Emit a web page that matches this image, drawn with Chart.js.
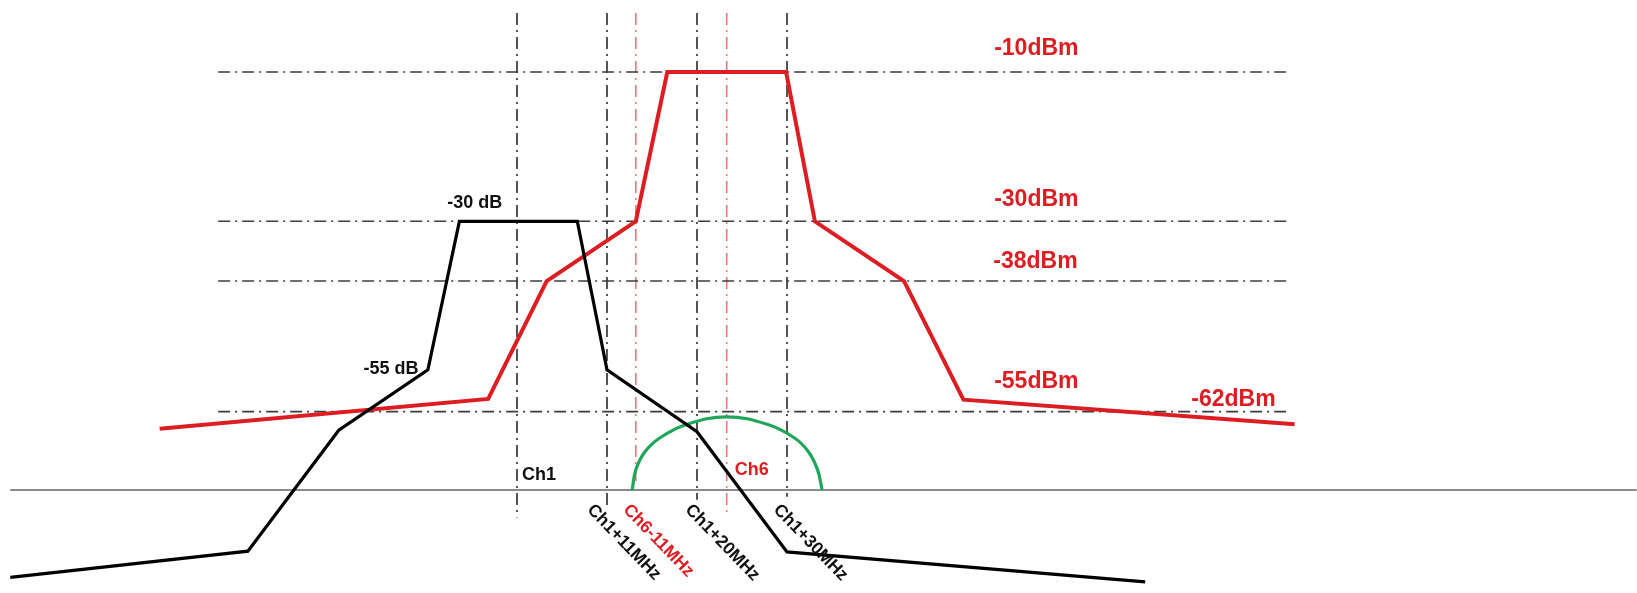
<!DOCTYPE html>
<html>
<head>
<meta charset="utf-8">
<title>Ch1 / Ch6 spectral mask</title>
<script src="https://cdn.jsdelivr.net/npm/chart.js@4.4.1/dist/chart.umd.min.js"></script>
<style>
    html, body { margin: 0; padding: 0; background: #fff; }
    canvas { display: block; }
</style>
</head>
<body>
<canvas id="maskChart" width="1637" height="593"></canvas>
<script>
// x = MHz offset from Ch1 centre, y = level in dB as drawn on the sketch
const blackFreq = [-56.3, -29.9, -19.8, -9.9, -6.4, 6.7, 10, 20, 30, 69.8];
const blackLevel = [-77.7, -74.2, -58.0, -49.9, -30, -30, -49.9, -58.2, -74.3, -78.3];

const redFreq = [-39.7, -3.2, 3.3, 13.2, 16.7, 29.9, 33.1, 43, 49.6, 86.4];
const redLevel = [-57.8, -53.8, -38, -30, -10, -10, -30, -38, -53.9, -57.2];

// Ch6 occupied band (green dome)
const greenFreq = [12.8, 13.2, 14.2, 15.9, 18.9, 23.3, 27.8, 30.8, 32.4, 33.4, 33.9];
const greenLevel = [-66, -63.3, -60.9, -59.0, -57.2, -56.2, -57.2, -59.0, -60.9, -63.3, -66];

// reference levels (horizontal dash-dot lines)
const refLevels = [-10, -30, -38, -55.5];
const refFrom = -33.2;
const refTo = 85.9;

// channel markers (vertical dash-dot lines)
const markerFreq = [0, 10, 20, 30];
const markerBottom = [-69.7, -68.0, -67.3, -66.9];
const redMarkerFreq = [13.2, 23.3];
const redMarkerBottom = [-65, -69.3];
const markerTop = -2.1;

const baseLevel = -66;
const baseFrom = -56.3;
const baseTo = 124.4;

// text on the sketch
const labelText = ['-10dBm', '-30dBm', '-38dBm', '-55dBm', '-62dBm', '-30 dB', '-55 dB', 'Ch1', 'Ch6',
    'Ch1+11MHz', 'Ch6-11MHz', 'Ch1+20MHz', 'Ch1+30MHz'];
const labelFreq = [57.7, 57.7, 57.6, 57.7, 79.6, -4.7, -14, 0.55, 24.2, 8.1, 12.1, 19.0, 28.8];
const labelLevel = [-6.9, -27.15, -35.45, -51.5, -53.9, -27.55, -49.8, -64.0, -63.3, -68.3, -68.3, -68.3, -68.3];

const RED = '#dc1e23';
const DASH_DOT = [12, 5, 2, 5];

const pts = (xs, ys) => xs.map((x, i) => ({ x: x, y: ys[i] }));

const lineSet = (data, color, width, dash) => ({
    data: data,
    showLine: true,
    borderColor: color,
    borderWidth: width,
    borderDash: dash || [],
    pointRadius: 0,
    fill: false,
    tension: 0
});

const datasets = [];
// curves first so they sit on top
datasets.push(lineSet(pts(blackFreq, blackLevel), '#000', 3.2));
datasets.push(lineSet(pts(redFreq, redLevel), RED, 4));
const green = lineSet(pts(greenFreq, greenLevel), '#1fa65a', 3.2);
green.tension = 0.4;
datasets.push(green);

refLevels.forEach(lv => {
    datasets.push(lineSet([{ x: refFrom, y: lv }, { x: refTo, y: lv }], '#3c3c3c', 1.6, DASH_DOT));
});
markerFreq.forEach((f, i) => {
    datasets.push(lineSet([{ x: f, y: markerTop }, { x: f, y: markerBottom[i] }], '#2a2a2a', 1.6, DASH_DOT));
});
redMarkerFreq.forEach((f, i) => {
    datasets.push(lineSet([{ x: f, y: markerTop }, { x: f, y: redMarkerBottom[i] }], '#e07a7e', 1.6, DASH_DOT));
});
datasets.push(lineSet([{ x: baseFrom, y: baseLevel }, { x: baseTo, y: baseLevel }], '#8a8a8a', 2));

// label styles per entry
const labelStyle = i => {
    if (i < 5) return { color: RED, size: 23, angle: 0, align: 'center' };
    if (i < 7) return { color: '#111', size: 18, angle: 0, align: 'center' };
    if (i === 7) return { color: '#111', size: 18, angle: 0, align: 'left' };
    if (i === 8) return { color: RED, size: 18, angle: 0, align: 'left' };
    return { color: i === 10 ? RED : '#111', size: 17.5, angle: 46, align: 'left' };
};

const textPlugin = {
    id: 'sketchText',
    afterDatasetsDraw(chart) {
        const ctx = chart.ctx;
        const xs = chart.scales.x, ys = chart.scales.y;
        labelText.forEach((t, i) => {
            const st = labelStyle(i);
            ctx.save();
            ctx.translate(xs.getPixelForValue(labelFreq[i]), ys.getPixelForValue(labelLevel[i]));
            ctx.rotate(st.angle * Math.PI / 180);
            ctx.font = 'bold ' + st.size + 'px "Liberation Sans", Arial, sans-serif';
            ctx.fillStyle = st.color;
            ctx.textAlign = st.align;
            ctx.textBaseline = 'middle';
            ctx.fillText(t, 0, 0);
            ctx.restore();
        });
    }
};

new Chart(document.getElementById('maskChart').getContext('2d'), {
    type: 'scatter',
    data: { datasets: datasets },
    options: {
        responsive: false,
        animation: false,
        devicePixelRatio: 1,
        layout: { padding: 0 },
        plugins: { legend: { display: false }, tooltip: { enabled: false } },
        scales: {
            x: { type: 'linear', min: -57.44, max: 124.44, display: false },
            y: { type: 'linear', min: -79.8, max: -0.35, display: false }
        }
    },
    plugins: [textPlugin]
});
</script>
</body>
</html>
